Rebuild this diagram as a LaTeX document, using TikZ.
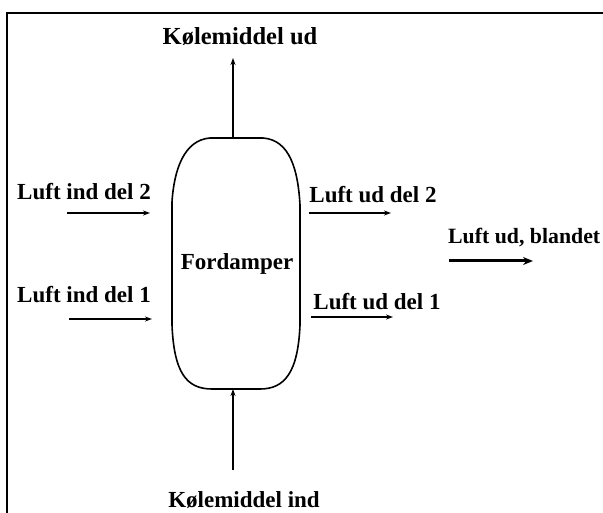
\documentclass[tikz,border=0pt]{standalone}
\usepackage{fontspec}
\setmainfont{Liberation Serif}
\usetikzlibrary{arrows.meta}
\begin{document}
\begin{tikzpicture}[x=1pt,y=-1pt,
  lbl/.style={font=\fontsize{23}{27}\selectfont\bfseries,inner sep=0pt,anchor=base},
  flow/.style={line width=1.6pt,-{Stealth[length=7pt,width=5pt]}},
  boldflow/.style={flow,line width=2.2pt},
  mixflow/.style={line width=3pt,-{Stealth[length=10pt,width=8pt]}}]
\useasboundingbox (0,0) rectangle (603,513);
% open frame
\draw[line width=2pt] (7,513) -- (7,13) -- (603,13);
% evaporator vessel
\draw[line width=1.6pt] (210,138) -- (263,138)
  .. controls (290,140) and (298,170) .. (300,205) -- (300,325)
  .. controls (298,372) and (285,389) .. (260,389) -- (212,389)
  .. controls (186,389) and (174,372) .. (172,325) -- (172,202)
  .. controls (174,170) and (184,140) .. (210,138) -- cycle;
\node[lbl] (evap) at (237,270) {Fordamper};
\coordinate (vtop) at (233,138);
\coordinate (vbot) at (233,389);
% refrigerant
\node[lbl,font=\fontsize{24.5}{28}\selectfont\bfseries] (refout) at (240,45) {Kølemiddel ud};
\coordinate (refouttip) at (233,58);
\draw[flow] (vtop) -- (refouttip);
\node[lbl] (refin) at (244,507) {Kølemiddel ind};
\coordinate (refinstart) at (233,470);
\draw[flow] (refinstart) -- (vbot);
% air in
\node[lbl] (in2) at (84,200) {Luft ind del 2};
\coordinate (in2a) at (67,213);
\coordinate (in2b) at (150,213);
\draw[flow] (in2a) -- (in2b);
\node[lbl] (in1) at (84,303) {Luft ind del 1};
\coordinate (in1a) at (69,319);
\coordinate (in1b) at (152,319);
\draw[boldflow] (in1a) -- (in1b);
% air out
\node[lbl] (out2) at (373,203) {Luft ud del 2};
\coordinate (out2a) at (309,213);
\coordinate (out2b) at (391,213);
\draw[boldflow] (out2a) -- (out2b);
\node[lbl] (out1) at (377,310) {Luft ud del 1};
\coordinate (out1a) at (311,317);
\coordinate (out1b) at (393,317);
\draw[boldflow] (out1a) -- (out1b);
\node[lbl,font=\fontsize{21.8}{26}\selectfont\bfseries,anchor=base west] (mix) at (448,244) {Luft ud, blandet};
\coordinate (mixa) at (449,261);
\coordinate (mixb) at (533,261);
\draw[mixflow] (mixa) -- (mixb);
\end{tikzpicture}
\end{document}
